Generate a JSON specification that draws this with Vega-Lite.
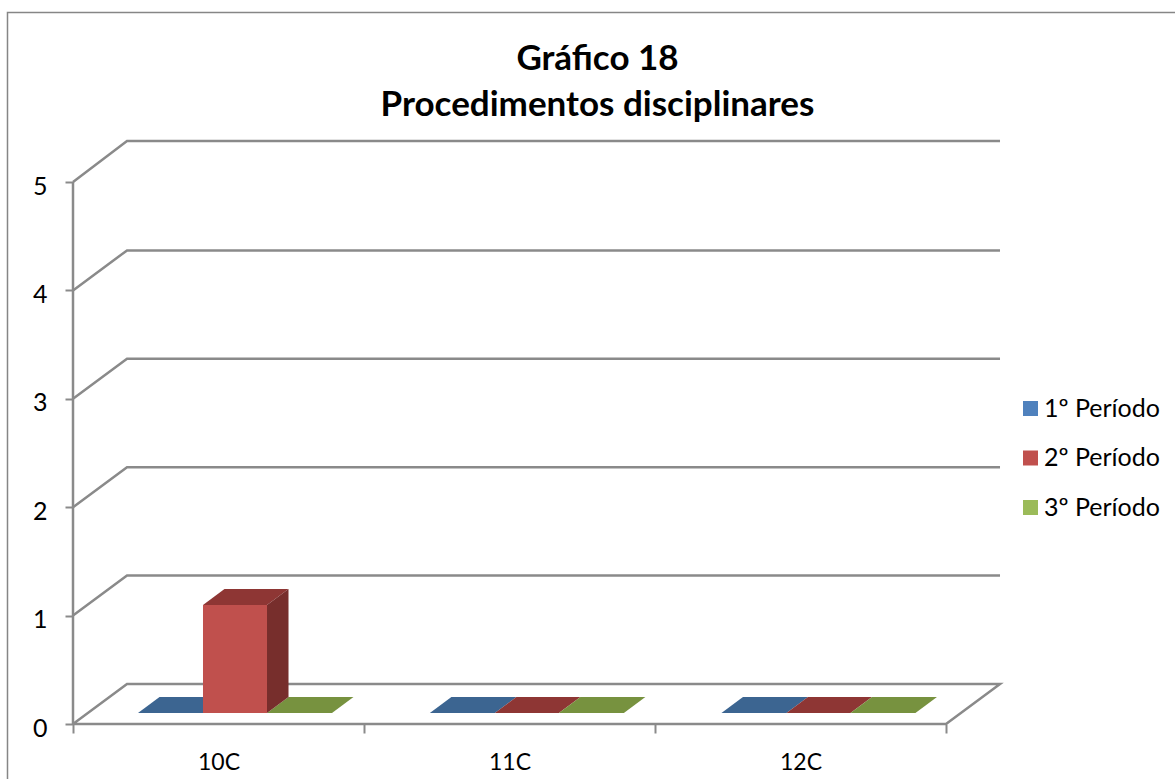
{
"$schema":"https://vega.github.io/schema/vega-lite/v6.json",
"width":1175,"height":779,"padding":0,"autosize":{"type":"none"},
"background":"white",
"config":{"view":{"stroke":null},"font":"Lato"},
"title":{"text":["Gráfico 18","Procedimentos disciplinares"],"font":"Lato","fontSize":35,"fontWeight":"bold","color":"#000000","anchor":"middle","dx":10,"offset":-123,"lineHeight":46},
"datasets":{
"moldura":[{"x":-0.2251,"y":-0.5074},{"x":-0.2251,"y":6.563},{"x":3.787,"y":6.563}],
"grelha":[
{"linha":"g0","x":0,"y":0},{"linha":"g0","x":0.1856,"y":0.369},{"linha":"g0","x":3.1856,"y":0.369},{"linha":"g0","x":3,"y":0},{"linha":"g0","x":0,"y":0},
{"linha":"g1","x":0,"y":1},{"linha":"g1","x":0.1856,"y":1.369},{"linha":"g1","x":3.1856,"y":1.369},
{"linha":"g2","x":0,"y":2},{"linha":"g2","x":0.1856,"y":2.369},{"linha":"g2","x":3.1856,"y":2.369},
{"linha":"g3","x":0,"y":3},{"linha":"g3","x":0.1856,"y":3.369},{"linha":"g3","x":3.1856,"y":3.369},
{"linha":"g4","x":0,"y":4},{"linha":"g4","x":0.1856,"y":4.369},{"linha":"g4","x":3.1856,"y":4.369},
{"linha":"g5","x":0,"y":5},{"linha":"g5","x":0.1856,"y":5.378},{"linha":"g5","x":3.1856,"y":5.378},
{"linha":"eixo","x":0,"y":0},{"linha":"eixo","x":0,"y":5}
],
"barras":[
{"turma":"10C","periodo":"1º Período","x":0.2234,"x2":0.4467,"y":0.1015,"y2":0.1015},
{"turma":"10C","periodo":"2º Período","x":0.4467,"x2":0.6667,"y":1.098,"y2":0.1015},
{"turma":"10C","periodo":"3º Período","x":0.6667,"x2":0.89,"y":0.1015,"y2":0.1015},
{"turma":"11C","periodo":"1º Período","x":1.2264,"x2":1.4497,"y":0.1015,"y2":0.1015},
{"turma":"11C","periodo":"2º Período","x":1.4497,"x2":1.6697,"y":0.1015,"y2":0.1015},
{"turma":"11C","periodo":"3º Período","x":1.6697,"x2":1.893,"y":0.1015,"y2":0.1015},
{"turma":"12C","periodo":"1º Período","x":2.2284,"x2":2.4517,"y":0.1015,"y2":0.1015},
{"turma":"12C","periodo":"2º Período","x":2.4517,"x2":2.6717,"y":0.1015,"y2":0.1015},
{"turma":"12C","periodo":"3º Período","x":2.6717,"x2":2.895,"y":0.1015,"y2":0.1015}
],
"topos":[
{"turma":"10C","periodo":"1º Período","x":0.2234,"y":0.1015,"y2":0.1015},{"turma":"10C","periodo":"1º Período","x":0.2973,"y":0.249,"y2":0.1015},{"turma":"10C","periodo":"1º Período","x":0.4467,"y":0.249,"y2":0.1015},{"turma":"10C","periodo":"1º Período","x":0.5206,"y":0.249,"y2":0.249},
{"turma":"10C","periodo":"2º Período","x":0.4467,"y":1.098,"y2":1.098},{"turma":"10C","periodo":"2º Período","x":0.5206,"y":1.245,"y2":1.098},{"turma":"10C","periodo":"2º Período","x":0.6667,"y":1.245,"y2":1.098},{"turma":"10C","periodo":"2º Período","x":0.7406,"y":1.245,"y2":1.245},
{"turma":"10C","periodo":"3º Período","x":0.6667,"y":0.1015,"y2":0.1015},{"turma":"10C","periodo":"3º Período","x":0.7406,"y":0.249,"y2":0.1015},{"turma":"10C","periodo":"3º Período","x":0.89,"y":0.249,"y2":0.1015},{"turma":"10C","periodo":"3º Período","x":0.9639,"y":0.249,"y2":0.249},
{"turma":"11C","periodo":"1º Período","x":1.2264,"y":0.1015,"y2":0.1015},{"turma":"11C","periodo":"1º Período","x":1.3003,"y":0.249,"y2":0.1015},{"turma":"11C","periodo":"1º Período","x":1.4497,"y":0.249,"y2":0.1015},{"turma":"11C","periodo":"1º Período","x":1.5236,"y":0.249,"y2":0.249},
{"turma":"11C","periodo":"2º Período","x":1.4497,"y":0.1015,"y2":0.1015},{"turma":"11C","periodo":"2º Período","x":1.5236,"y":0.249,"y2":0.1015},{"turma":"11C","periodo":"2º Período","x":1.6697,"y":0.249,"y2":0.1015},{"turma":"11C","periodo":"2º Período","x":1.7436,"y":0.249,"y2":0.249},
{"turma":"11C","periodo":"3º Período","x":1.6697,"y":0.1015,"y2":0.1015},{"turma":"11C","periodo":"3º Período","x":1.7436,"y":0.249,"y2":0.1015},{"turma":"11C","periodo":"3º Período","x":1.893,"y":0.249,"y2":0.1015},{"turma":"11C","periodo":"3º Período","x":1.9669,"y":0.249,"y2":0.249},
{"turma":"12C","periodo":"1º Período","x":2.2284,"y":0.1015,"y2":0.1015},{"turma":"12C","periodo":"1º Período","x":2.3023,"y":0.249,"y2":0.1015},{"turma":"12C","periodo":"1º Período","x":2.4517,"y":0.249,"y2":0.1015},{"turma":"12C","periodo":"1º Período","x":2.5256,"y":0.249,"y2":0.249},
{"turma":"12C","periodo":"2º Período","x":2.4517,"y":0.1015,"y2":0.1015},{"turma":"12C","periodo":"2º Período","x":2.5256,"y":0.249,"y2":0.1015},{"turma":"12C","periodo":"2º Período","x":2.6717,"y":0.249,"y2":0.1015},{"turma":"12C","periodo":"2º Período","x":2.7456,"y":0.249,"y2":0.249},
{"turma":"12C","periodo":"3º Período","x":2.6717,"y":0.1015,"y2":0.1015},{"turma":"12C","periodo":"3º Período","x":2.7456,"y":0.249,"y2":0.1015},{"turma":"12C","periodo":"3º Período","x":2.895,"y":0.249,"y2":0.1015},{"turma":"12C","periodo":"3º Período","x":2.9689,"y":0.249,"y2":0.249}
],
"lados":[
{"turma":"10C","periodo":"2º Período","x":0.6667,"y":1.098,"y2":0.1015},{"turma":"10C","periodo":"2º Período","x":0.7406,"y":1.245,"y2":0.249}
]
},
"encoding":{
"x":{"field":"x","type":"quantitative","title":null,"scale":{"domain":[-0.25086,3.78694],"nice":false,"zero":false},
"axis":{"values":[0,0.5,1,1.5,2,2.5,3],"grid":false,"domain":false,"orient":"bottom","offset":-55,"tickSize":9,"tickWidth":2,"tickColor":{"condition":{"test":"datum.value % 1 === 0","value":"#8a8a8a"},"value":"transparent"},"labelExpr":"datum.value===0.5?'10C':datum.value===1.5?'11C':datum.value===2.5?'12C':''","labelFont":"Lato","labelFontSize":23,"labelColor":"#000000","labelPadding":18,"labelOverlap":false,"labelFlush":false,"labelBound":false}},
"y":{"field":"y","type":"quantitative","title":null,"stack":null,"scale":{"domain":[-0.50738,6.67897],"nice":false,"zero":false},
"axis":{"values":[0,1,2,3,4,5],"grid":false,"domain":false,"orient":"left","offset":-73,"tickSize":8,"tickWidth":2,"tickColor":"#8a8a8a","format":"d","labelFont":"Lato","labelFontSize":25,"labelColor":"#000000","labelPadding":18,"labelOverlap":false,"labelFlush":false,"labelBound":false,"labelOffset":4}}
},
"layer":[
{"data":{"name":"moldura"},"mark":{"type":"line","color":"#868686","strokeWidth":1.5},"encoding":{}},
{"data":{"name":"grelha"},"mark":{"type":"line","color":"#8a8a8a","strokeWidth":2.5,"strokeJoin":"miter","sort":null},"encoding":{"detail":{"field":"linha"},"order":{"value":null}}},
{"data":{"name":"topos"},"mark":{"type":"area","line":false,"opacity":1},"encoding":{"y2":{"field":"y2"},"detail":{"field":"turma"},"color":{"field":"periodo","type":"nominal","legend":null,"scale":{"domain":["1º Período","2º Período","3º Período"],"range":["#3C6591","#8E3634","#77923F"]}}}},
{"data":{"name":"lados"},"mark":{"type":"area","line":false,"opacity":1},"encoding":{"y2":{"field":"y2"},"detail":{"field":"turma"},"color":{"field":"periodo","type":"nominal","legend":null,"scale":{"domain":["1º Período","2º Período","3º Período"],"range":["#2F4F74","#772E2C","#5F7532"]}}}},
{"data":{"name":"barras"},"mark":{"type":"rect","opacity":1},"encoding":{"x2":{"field":"x2"},"y2":{"field":"y2"},"color":{"field":"periodo","type":"nominal","scale":{"domain":["1º Período","2º Período","3º Período"],"range":["#4F81BD","#C0504D","#9BBB59"]},
"legend":{"orient":"none","legendX":1018,"legendY":396,"title":null,"symbolType":"square","symbolSize":225,"symbolStrokeWidth":0,"symbolOpacity":1,"labelFont":"Lato","labelFontSize":25,"labelColor":"#000000","labelOffset":1,"rowPadding":23.5}}}}
],
"resolve":{"scale":{"color":"independent"}}
}
